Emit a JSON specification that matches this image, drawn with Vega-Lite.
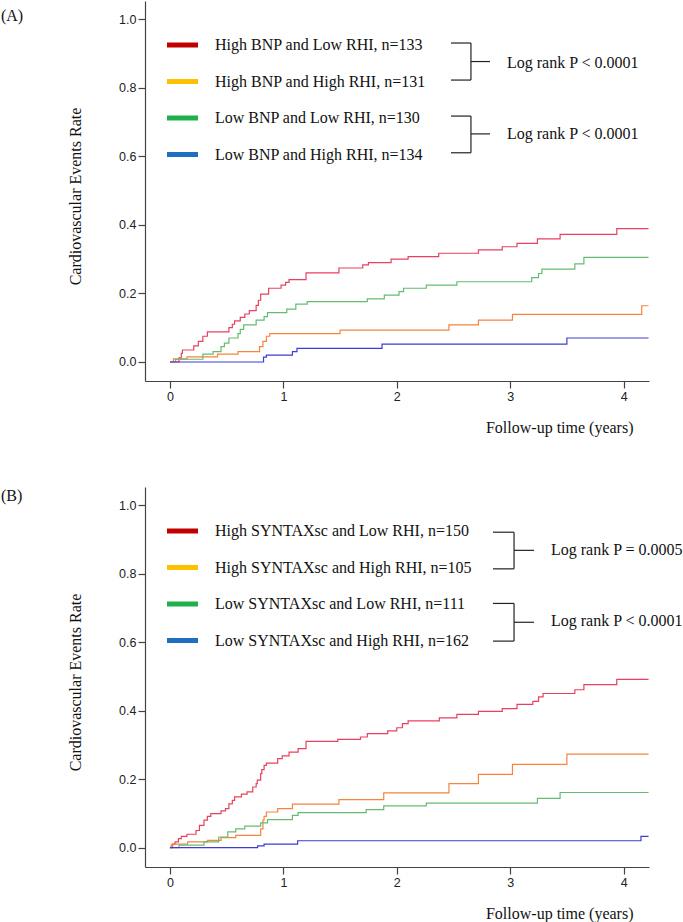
{
  "$schema": "https://vega.github.io/schema/vega-lite/v6.json",
  "padding": {"left": 0, "top": 1, "right": 0, "bottom": 0},
  "autosize": {"type": "pad"},
  "bounds": "flush",
  "spacing": 106,
  "config": {
    "view": {"stroke": null},
    "axis": {
      "grid": false,
      "domainColor": "#444444",
      "tickColor": "#444444",
      "domainWidth": 1.2,
      "tickWidth": 1.2,
      "tickSize": 7,
      "labelFont": "Liberation Sans",
      "labelFontSize": 12.5,
      "labelColor": "#222222",
      "labelPadding": 2,
      "titleFont": "Liberation Serif",
      "titleFontSize": 16,
      "titleFontWeight": "normal",
      "titleColor": "#111111"
    },
    "legend": {
      "orient": "none",
      "legendX": 19.5,
      "legendY": 26,
      "symbolType": "stroke",
      "symbolSize": 961,
      "symbolStrokeWidth": 5,
      "symbolOpacity": 1,
      "labelFont": "Liberation Serif",
      "labelFontSize": 16,
      "labelColor": "#111111",
      "labelOffset": 14.5,
      "labelLimit": 0,
      "rowPadding": 8.5,
      "padding": 0
    }
  },
  "datasets": {
    "labA": [
      {"g": "HL", "label": "High BNP and Low RHI, n=133"},
      {"g": "HH", "label": "High BNP and High RHI, n=131"},
      {"g": "LL", "label": "Low BNP and Low RHI, n=130"},
      {"g": "LH", "label": "Low BNP and High RHI, n=134"}
    ],
    "labB": [
      {"g": "HL", "label": "High SYNTAXsc and Low RHI, n=150"},
      {"g": "HH", "label": "High SYNTAXsc and High RHI, n=105"},
      {"g": "LL", "label": "Low SYNTAXsc and Low RHI, n=111"},
      {"g": "LH", "label": "Low SYNTAXsc and High RHI, n=162"}
    ],
    "a": [
      {"g": "HL", "t": 0, "v": 0}, {"g": "HL", "t": 0.08, "v": 0.012}, {"g": "HL", "t": 0.1, "v": 0.025}, {"g": "HL", "t": 0.11, "v": 0.035},
      {"g": "HL", "t": 0.21, "v": 0.047}, {"g": "HL", "t": 0.25, "v": 0.06}, {"g": "HL", "t": 0.29, "v": 0.075}, {"g": "HL", "t": 0.33, "v": 0.088},
      {"g": "HL", "t": 0.52, "v": 0.1}, {"g": "HL", "t": 0.55, "v": 0.11}, {"g": "HL", "t": 0.57, "v": 0.12}, {"g": "HL", "t": 0.62, "v": 0.13},
      {"g": "HL", "t": 0.66, "v": 0.14}, {"g": "HL", "t": 0.7, "v": 0.15}, {"g": "HL", "t": 0.76, "v": 0.165}, {"g": "HL", "t": 0.78, "v": 0.18},
      {"g": "HL", "t": 0.8, "v": 0.198}, {"g": "HL", "t": 0.87, "v": 0.215}, {"g": "HL", "t": 0.98, "v": 0.224}, {"g": "HL", "t": 1.02, "v": 0.232},
      {"g": "HL", "t": 1.05, "v": 0.24}, {"g": "HL", "t": 1.2, "v": 0.26}, {"g": "HL", "t": 1.49, "v": 0.274}, {"g": "HL", "t": 1.7, "v": 0.283},
      {"g": "HL", "t": 1.75, "v": 0.29}, {"g": "HL", "t": 1.95, "v": 0.3}, {"g": "HL", "t": 2.1, "v": 0.307}, {"g": "HL", "t": 2.37, "v": 0.317},
      {"g": "HL", "t": 2.72, "v": 0.327}, {"g": "HL", "t": 2.93, "v": 0.336}, {"g": "HL", "t": 3.06, "v": 0.346}, {"g": "HL", "t": 3.24, "v": 0.359},
      {"g": "HL", "t": 3.44, "v": 0.372}, {"g": "HL", "t": 3.94, "v": 0.389}, {"g": "HL", "t": 4.22, "v": 0.389},
      {"g": "HH", "t": 0, "v": 0}, {"g": "HH", "t": 0.03, "v": 0.009}, {"g": "HH", "t": 0.15, "v": 0.015}, {"g": "HH", "t": 0.42, "v": 0.023},
      {"g": "HH", "t": 0.6, "v": 0.03}, {"g": "HH", "t": 0.79, "v": 0.045}, {"g": "HH", "t": 0.82, "v": 0.06}, {"g": "HH", "t": 0.85, "v": 0.075},
      {"g": "HH", "t": 0.88, "v": 0.083}, {"g": "HH", "t": 1.5, "v": 0.093}, {"g": "HH", "t": 2.46, "v": 0.108}, {"g": "HH", "t": 2.72, "v": 0.122},
      {"g": "HH", "t": 3.02, "v": 0.139}, {"g": "HH", "t": 4.16, "v": 0.164}, {"g": "HH", "t": 4.22, "v": 0.164},
      {"g": "LL", "t": 0, "v": 0}, {"g": "LL", "t": 0.05, "v": 0.008}, {"g": "LL", "t": 0.29, "v": 0.023}, {"g": "LL", "t": 0.38, "v": 0.03},
      {"g": "LL", "t": 0.45, "v": 0.045}, {"g": "LL", "t": 0.48, "v": 0.055}, {"g": "LL", "t": 0.52, "v": 0.07}, {"g": "LL", "t": 0.6, "v": 0.083},
      {"g": "LL", "t": 0.62, "v": 0.095}, {"g": "LL", "t": 0.65, "v": 0.108}, {"g": "LL", "t": 0.76, "v": 0.122}, {"g": "LL", "t": 0.83, "v": 0.132},
      {"g": "LL", "t": 0.86, "v": 0.144}, {"g": "LL", "t": 1.03, "v": 0.154}, {"g": "LL", "t": 1.11, "v": 0.169}, {"g": "LL", "t": 1.21, "v": 0.176},
      {"g": "LL", "t": 1.74, "v": 0.184}, {"g": "LL", "t": 1.89, "v": 0.195}, {"g": "LL", "t": 2.02, "v": 0.205}, {"g": "LL", "t": 2.06, "v": 0.215},
      {"g": "LL", "t": 2.26, "v": 0.224}, {"g": "LL", "t": 2.53, "v": 0.234}, {"g": "LL", "t": 3.19, "v": 0.246}, {"g": "LL", "t": 3.25, "v": 0.258},
      {"g": "LL", "t": 3.28, "v": 0.271}, {"g": "LL", "t": 3.57, "v": 0.286}, {"g": "LL", "t": 3.65, "v": 0.305}, {"g": "LL", "t": 4.22, "v": 0.305},
      {"g": "LH", "t": 0, "v": 0}, {"g": "LH", "t": 0.825, "v": 0.014}, {"g": "LH", "t": 0.85, "v": 0.02}, {"g": "LH", "t": 1.08, "v": 0.03},
      {"g": "LH", "t": 1.12, "v": 0.04}, {"g": "LH", "t": 1.87, "v": 0.052}, {"g": "LH", "t": 3.5, "v": 0.07}, {"g": "LH", "t": 4.22, "v": 0.07}
    ],
    "b": [
      {"g": "HL", "t": 0, "v": 0}, {"g": "HL", "t": 0.02, "v": 0.01}, {"g": "HL", "t": 0.045, "v": 0.017}, {"g": "HL", "t": 0.075, "v": 0.026},
      {"g": "HL", "t": 0.1, "v": 0.033}, {"g": "HL", "t": 0.15, "v": 0.039}, {"g": "HL", "t": 0.23, "v": 0.05}, {"g": "HL", "t": 0.26, "v": 0.065},
      {"g": "HL", "t": 0.3, "v": 0.08}, {"g": "HL", "t": 0.33, "v": 0.091}, {"g": "HL", "t": 0.36, "v": 0.099}, {"g": "HL", "t": 0.45, "v": 0.107},
      {"g": "HL", "t": 0.49, "v": 0.114}, {"g": "HL", "t": 0.52, "v": 0.128}, {"g": "HL", "t": 0.55, "v": 0.138}, {"g": "HL", "t": 0.57, "v": 0.148},
      {"g": "HL", "t": 0.63, "v": 0.156}, {"g": "HL", "t": 0.68, "v": 0.163}, {"g": "HL", "t": 0.73, "v": 0.177}, {"g": "HL", "t": 0.76, "v": 0.187},
      {"g": "HL", "t": 0.77, "v": 0.197}, {"g": "HL", "t": 0.8, "v": 0.216}, {"g": "HL", "t": 0.81, "v": 0.228}, {"g": "HL", "t": 0.83, "v": 0.24},
      {"g": "HL", "t": 0.85, "v": 0.247}, {"g": "HL", "t": 0.95, "v": 0.26}, {"g": "HL", "t": 0.99, "v": 0.268}, {"g": "HL", "t": 1.05, "v": 0.279},
      {"g": "HL", "t": 1.13, "v": 0.289}, {"g": "HL", "t": 1.2, "v": 0.31}, {"g": "HL", "t": 1.48, "v": 0.316}, {"g": "HL", "t": 1.68, "v": 0.323},
      {"g": "HL", "t": 1.74, "v": 0.333}, {"g": "HL", "t": 1.92, "v": 0.341}, {"g": "HL", "t": 2.0, "v": 0.35}, {"g": "HL", "t": 2.05, "v": 0.362},
      {"g": "HL", "t": 2.1, "v": 0.37}, {"g": "HL", "t": 2.375, "v": 0.379}, {"g": "HL", "t": 2.53, "v": 0.389}, {"g": "HL", "t": 2.72, "v": 0.398},
      {"g": "HL", "t": 2.93, "v": 0.406}, {"g": "HL", "t": 3.06, "v": 0.418}, {"g": "HL", "t": 3.2, "v": 0.427}, {"g": "HL", "t": 3.25, "v": 0.44},
      {"g": "HL", "t": 3.29, "v": 0.45}, {"g": "HL", "t": 3.57, "v": 0.461}, {"g": "HL", "t": 3.65, "v": 0.476}, {"g": "HL", "t": 3.94, "v": 0.491},
      {"g": "HL", "t": 4.22, "v": 0.491},
      {"g": "HH", "t": 0, "v": 0}, {"g": "HH", "t": 0.01, "v": 0.007}, {"g": "HH", "t": 0.03, "v": 0.01}, {"g": "HH", "t": 0.156, "v": 0.017},
      {"g": "HH", "t": 0.33, "v": 0.021}, {"g": "HH", "t": 0.45, "v": 0.029}, {"g": "HH", "t": 0.58, "v": 0.036}, {"g": "HH", "t": 0.8, "v": 0.055},
      {"g": "HH", "t": 0.82, "v": 0.08}, {"g": "HH", "t": 0.83, "v": 0.091}, {"g": "HH", "t": 0.85, "v": 0.104}, {"g": "HH", "t": 0.95, "v": 0.114},
      {"g": "HH", "t": 1.08, "v": 0.127}, {"g": "HH", "t": 1.49, "v": 0.14}, {"g": "HH", "t": 1.885, "v": 0.16}, {"g": "HH", "t": 2.46, "v": 0.187},
      {"g": "HH", "t": 2.72, "v": 0.214}, {"g": "HH", "t": 3.02, "v": 0.243}, {"g": "HH", "t": 3.5, "v": 0.273}, {"g": "HH", "t": 4.22, "v": 0.273},
      {"g": "LL", "t": 0, "v": 0}, {"g": "LL", "t": 0.08, "v": 0.007}, {"g": "LL", "t": 0.3, "v": 0.017}, {"g": "LL", "t": 0.43, "v": 0.031},
      {"g": "LL", "t": 0.51, "v": 0.046}, {"g": "LL", "t": 0.58, "v": 0.055}, {"g": "LL", "t": 0.66, "v": 0.063}, {"g": "LL", "t": 0.8, "v": 0.072},
      {"g": "LL", "t": 0.86, "v": 0.082}, {"g": "LL", "t": 1.08, "v": 0.094}, {"g": "LL", "t": 1.13, "v": 0.102}, {"g": "LL", "t": 1.73, "v": 0.111},
      {"g": "LL", "t": 1.885, "v": 0.122}, {"g": "LL", "t": 2.26, "v": 0.13}, {"g": "LL", "t": 3.24, "v": 0.144}, {"g": "LL", "t": 3.44, "v": 0.161},
      {"g": "LL", "t": 4.22, "v": 0.161},
      {"g": "LH", "t": 0, "v": 0}, {"g": "LH", "t": 0.773, "v": 0.005}, {"g": "LH", "t": 0.83, "v": 0.01}, {"g": "LH", "t": 1.126, "v": 0.02},
      {"g": "LH", "t": 4.153, "v": 0.033}, {"g": "LH", "t": 4.22, "v": 0.033}
    ]
  },
  "vconcat": [
    {
      "width": 504,
      "height": 380,
      "layer": [
        {
          "data": {"name": "a"},
          "transform": [{"lookup": "g", "from": {"data": {"name": "labA"}, "key": "g", "fields": ["label"]}}],
          "mark": {"type": "line", "interpolate": "step-after", "strokeWidth": 1.2, "clip": true},
          "encoding": {
            "x": {"field": "t", "type": "quantitative", "scale": {"domain": [-0.22, 4.224], "nice": false, "zero": false},
                  "axis": {"values": [0, 1, 2, 3, 4], "format": "d", "title": "Follow-up time (years)", "titleX": 488, "titleY": 51.5, "titleAlign": "right", "titleBaseline": "alphabetic", "titleAngle": 0}},
            "y": {"field": "v", "type": "quantitative", "scale": {"domain": [-0.0554, 1.0525], "nice": false, "zero": false},
                  "axis": {"values": [0, 0.2, 0.4, 0.6, 0.8, 1], "format": ".1f", "title": "Cardiovascular Events Rate", "titleX": -65, "titleY": 195, "titleAngle": -90, "titleAlign": "center", "titleBaseline": "alphabetic"}},
            "color": {"field": "label", "type": "nominal",
                      "scale": {"domain": ["High BNP and Low RHI, n=133", "High BNP and High RHI, n=131", "Low BNP and Low RHI, n=130", "Low BNP and High RHI, n=134"],
                                "range": ["#e8415f", "#f5843f", "#66bb72", "#3d3dd6"]},
                      "legend": null}
          }
        },
        {
          "data": {"name": "a"},
          "transform": [{"lookup": "g", "from": {"data": {"name": "labA"}, "key": "g", "fields": ["label"]}}],
          "mark": {"type": "line", "interpolate": "step-after", "opacity": 0, "clip": true},
          "encoding": {
            "x": {"field": "t", "type": "quantitative"},
            "y": {"field": "v", "type": "quantitative"},
            "color": {"field": "label", "type": "nominal",
                      "scale": {"domain": ["High BNP and Low RHI, n=133", "High BNP and High RHI, n=131", "Low BNP and Low RHI, n=130", "Low BNP and High RHI, n=134"],
                                "range": ["#c00000", "#ffc000", "#1faf4b", "#1e6fc0"]},
                      "legend": {"title": null}}
          }
        },
        {"data": {"values": [{}]}, "mark": {"type": "text", "text": "(A)", "font": "Liberation Serif", "fontSize": 16, "align": "left", "baseline": "middle", "color": "#111111"},
         "encoding": {"x": {"datum": -1.4903, "type": "quantitative"}, "y": {"datum": 1.0087, "type": "quantitative"}}},
        {"data": {"values": [{}]}, "mark": {"type": "text", "text": "Log rank P < 0.0001", "font": "Liberation Serif", "fontSize": 16, "align": "left", "baseline": "middle", "color": "#111111"},
         "encoding": {"x": {"datum": 2.972, "type": "quantitative"}, "y": {"datum": 0.873, "type": "quantitative"}}},
        {"data": {"values": [{}]}, "mark": {"type": "text", "text": "Log rank P < 0.0001", "font": "Liberation Serif", "fontSize": 16, "align": "left", "baseline": "middle", "color": "#111111"},
         "encoding": {"x": {"datum": 2.972, "type": "quantitative"}, "y": {"datum": 0.665, "type": "quantitative"}}},
        {"data": {"values": [{}]}, "mark": {"type": "rule", "color": "#222222", "strokeWidth": 1.2},
         "encoding": {"x": {"datum": 2.478, "type": "quantitative"}, "x2": {"datum": 2.654}, "y": {"datum": 0.93, "type": "quantitative"}}},
        {"data": {"values": [{}]}, "mark": {"type": "rule", "color": "#222222", "strokeWidth": 1.2},
         "encoding": {"x": {"datum": 2.478, "type": "quantitative"}, "x2": {"datum": 2.654}, "y": {"datum": 0.822, "type": "quantitative"}}},
        {"data": {"values": [{}]}, "mark": {"type": "rule", "color": "#222222", "strokeWidth": 1.2},
         "encoding": {"x": {"datum": 2.654, "type": "quantitative"}, "y": {"datum": 0.93, "type": "quantitative"}, "y2": {"datum": 0.822}}},
        {"data": {"values": [{}]}, "mark": {"type": "rule", "color": "#222222", "strokeWidth": 1.2},
         "encoding": {"x": {"datum": 2.654, "type": "quantitative"}, "x2": {"datum": 2.822}, "y": {"datum": 0.876, "type": "quantitative"}}},
        {"data": {"values": [{}]}, "mark": {"type": "rule", "color": "#222222", "strokeWidth": 1.2},
         "encoding": {"x": {"datum": 2.478, "type": "quantitative"}, "x2": {"datum": 2.654}, "y": {"datum": 0.717, "type": "quantitative"}}},
        {"data": {"values": [{}]}, "mark": {"type": "rule", "color": "#222222", "strokeWidth": 1.2},
         "encoding": {"x": {"datum": 2.478, "type": "quantitative"}, "x2": {"datum": 2.654}, "y": {"datum": 0.61, "type": "quantitative"}}},
        {"data": {"values": [{}]}, "mark": {"type": "rule", "color": "#222222", "strokeWidth": 1.2},
         "encoding": {"x": {"datum": 2.654, "type": "quantitative"}, "y": {"datum": 0.717, "type": "quantitative"}, "y2": {"datum": 0.61}}},
        {"data": {"values": [{}]}, "mark": {"type": "rule", "color": "#222222", "strokeWidth": 1.2},
         "encoding": {"x": {"datum": 2.654, "type": "quantitative"}, "x2": {"datum": 2.822}, "y": {"datum": 0.665, "type": "quantitative"}}}
      ],
      "resolve": {"scale": {"color": "independent"}}
    },
    {
      "width": 504,
      "height": 380,
      "layer": [
        {
          "data": {"name": "b"},
          "transform": [{"lookup": "g", "from": {"data": {"name": "labB"}, "key": "g", "fields": ["label"]}}],
          "mark": {"type": "line", "interpolate": "step-after", "strokeWidth": 1.2, "clip": true},
          "encoding": {
            "x": {"field": "t", "type": "quantitative", "scale": {"domain": [-0.22, 4.224], "nice": false, "zero": false},
                  "axis": {"values": [0, 1, 2, 3, 4], "format": "d", "title": "Follow-up time (years)", "titleX": 488, "titleY": 51.5, "titleAlign": "right", "titleBaseline": "alphabetic", "titleAngle": 0}},
            "y": {"field": "v", "type": "quantitative", "scale": {"domain": [-0.0566, 1.053], "nice": false, "zero": false},
                  "axis": {"values": [0, 0.2, 0.4, 0.6, 0.8, 1], "format": ".1f", "title": "Cardiovascular Events Rate", "titleX": -65, "titleY": 195, "titleAngle": -90, "titleAlign": "center", "titleBaseline": "alphabetic"}},
            "color": {"field": "label", "type": "nominal",
                      "scale": {"domain": ["High SYNTAXsc and Low RHI, n=150", "High SYNTAXsc and High RHI, n=105", "Low SYNTAXsc and Low RHI, n=111", "Low SYNTAXsc and High RHI, n=162"],
                                "range": ["#e8415f", "#f5843f", "#66bb72", "#3d3dd6"]},
                      "legend": null}
          }
        },
        {
          "data": {"name": "b"},
          "transform": [{"lookup": "g", "from": {"data": {"name": "labB"}, "key": "g", "fields": ["label"]}}],
          "mark": {"type": "line", "interpolate": "step-after", "opacity": 0, "clip": true},
          "encoding": {
            "x": {"field": "t", "type": "quantitative"},
            "y": {"field": "v", "type": "quantitative"},
            "color": {"field": "label", "type": "nominal",
                      "scale": {"domain": ["High SYNTAXsc and Low RHI, n=150", "High SYNTAXsc and High RHI, n=105", "Low SYNTAXsc and Low RHI, n=111", "Low SYNTAXsc and High RHI, n=162"],
                                "range": ["#c00000", "#ffc000", "#1faf4b", "#1e6fc0"]},
                      "legend": {"title": null}}
          }
        },
        {"data": {"values": [{}]}, "mark": {"type": "text", "text": "(B)", "font": "Liberation Serif", "fontSize": 16, "align": "left", "baseline": "middle", "color": "#111111"},
         "encoding": {"x": {"datum": -1.4903, "type": "quantitative"}, "y": {"datum": 1.0257, "type": "quantitative"}}},
        {"data": {"values": [{}]}, "mark": {"type": "text", "text": "Log rank P = 0.0005", "font": "Liberation Serif", "fontSize": 16, "align": "left", "baseline": "middle", "color": "#111111"},
         "encoding": {"x": {"datum": 3.36, "type": "quantitative"}, "y": {"datum": 0.868, "type": "quantitative"}}},
        {"data": {"values": [{}]}, "mark": {"type": "text", "text": "Log rank P < 0.0001", "font": "Liberation Serif", "fontSize": 16, "align": "left", "baseline": "middle", "color": "#111111"},
         "encoding": {"x": {"datum": 3.36, "type": "quantitative"}, "y": {"datum": 0.662, "type": "quantitative"}}},
        {"data": {"values": [{}]}, "mark": {"type": "rule", "color": "#222222", "strokeWidth": 1.2},
         "encoding": {"x": {"datum": 2.848, "type": "quantitative"}, "x2": {"datum": 3.034}, "y": {"datum": 0.921, "type": "quantitative"}}},
        {"data": {"values": [{}]}, "mark": {"type": "rule", "color": "#222222", "strokeWidth": 1.2},
         "encoding": {"x": {"datum": 2.848, "type": "quantitative"}, "x2": {"datum": 3.034}, "y": {"datum": 0.814, "type": "quantitative"}}},
        {"data": {"values": [{}]}, "mark": {"type": "rule", "color": "#222222", "strokeWidth": 1.2},
         "encoding": {"x": {"datum": 3.034, "type": "quantitative"}, "y": {"datum": 0.921, "type": "quantitative"}, "y2": {"datum": 0.814}}},
        {"data": {"values": [{}]}, "mark": {"type": "rule", "color": "#222222", "strokeWidth": 1.2},
         "encoding": {"x": {"datum": 3.034, "type": "quantitative"}, "x2": {"datum": 3.21}, "y": {"datum": 0.868, "type": "quantitative"}}},
        {"data": {"values": [{}]}, "mark": {"type": "rule", "color": "#222222", "strokeWidth": 1.2},
         "encoding": {"x": {"datum": 2.848, "type": "quantitative"}, "x2": {"datum": 3.034}, "y": {"datum": 0.713, "type": "quantitative"}}},
        {"data": {"values": [{}]}, "mark": {"type": "rule", "color": "#222222", "strokeWidth": 1.2},
         "encoding": {"x": {"datum": 2.848, "type": "quantitative"}, "x2": {"datum": 3.034}, "y": {"datum": 0.603, "type": "quantitative"}}},
        {"data": {"values": [{}]}, "mark": {"type": "rule", "color": "#222222", "strokeWidth": 1.2},
         "encoding": {"x": {"datum": 3.034, "type": "quantitative"}, "y": {"datum": 0.713, "type": "quantitative"}, "y2": {"datum": 0.603}}},
        {"data": {"values": [{}]}, "mark": {"type": "rule", "color": "#222222", "strokeWidth": 1.2},
         "encoding": {"x": {"datum": 3.034, "type": "quantitative"}, "x2": {"datum": 3.21}, "y": {"datum": 0.658, "type": "quantitative"}}}
      ],
      "resolve": {"scale": {"color": "independent"}}
    }
  ]
}
